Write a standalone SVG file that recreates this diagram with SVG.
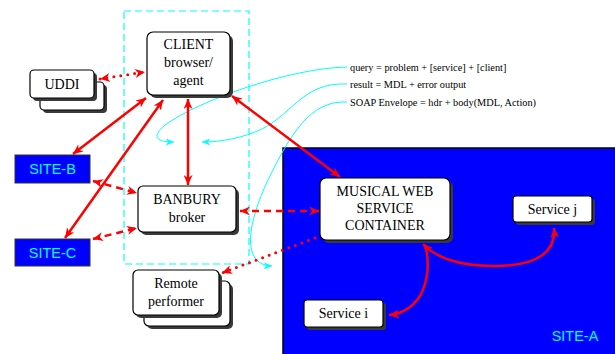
<svg xmlns="http://www.w3.org/2000/svg" width="615" height="354" viewBox="0 0 615 354">
<defs>
<marker id="ar" markerUnits="userSpaceOnUse" markerWidth="11" markerHeight="9" refX="10" refY="4.5" orient="auto-start-reverse" viewBox="0 0 11 9">
<path d="M0,0 L10,4.5 L0,9 L3,4.5 z" fill="#ff0000"/>
</marker>
<marker id="ac" markerUnits="userSpaceOnUse" markerWidth="9" markerHeight="7" refX="8" refY="3.5" orient="auto" viewBox="0 0 9 7">
<path d="M0,0 L8,3.5 L0,7 L2,3.5 z" fill="#00ffff"/>
</marker>
</defs>
<style>
.box{fill:#ffffff;stroke:#000;stroke-width:1.2}
.sh{fill:#3a3a3a}
.t{font-family:"Liberation Serif","Times New Roman",serif;font-size:14px;fill:#000;text-anchor:middle}
.s{font-family:"Liberation Sans",Arial,sans-serif;font-size:14.5px;fill:#00ffff;text-anchor:middle}
.n{font-family:"Liberation Serif","Times New Roman",serif;font-size:10.3px;fill:#000}
.site{fill:#0000ff;stroke:#333;stroke-width:1}
.r{fill:none;stroke:#ff0000;stroke-width:2.5}
.d{stroke-dasharray:7,5}
.o{stroke-dasharray:0,7;stroke-linecap:round;stroke-width:3}
.c{fill:none;stroke:#00ffff;stroke-width:1}
</style>

<g id="site-a">
<rect x="283" y="148" width="340" height="215" fill="#0000ff" stroke="#000" stroke-width="1.5"/>
<text class="s" x="575" y="341">SITE-A</text>
</g>

<g id="client-zone">
<rect x="124" y="11" width="125" height="253" fill="none" stroke="#00ffff" stroke-width="1.2" stroke-dasharray="7,4"/>
</g>

<g id="notes">
<text class="n" x="350" y="71">query = problem + [service] + [client]</text>
<text class="n" x="350" y="88">result = MDL + error output</text>
<text class="n" x="350" y="106">SOAP Envelope = hdr + body(MDL, Action)</text>
</g>

<g id="connectors">
<path class="c" d="M347,67 C290,68 200,100 165,125 C150,138 158,142 174,142" marker-end="url(#ac)"/>
<path class="c" d="M347,84 C300,82 292,118 255,132 C235,140 215,142 202,142" marker-end="url(#ac)"/>
<path class="c" d="M347,102 C310,100 290,135 268,180 C248,222 240,265 272,266" marker-end="url(#ac)"/>

<line class="r o" x1="100" y1="79" x2="145" y2="72" marker-start="url(#ar)" marker-end="url(#ar)"/>
<line class="r" x1="146" y1="98" x2="73" y2="154" marker-start="url(#ar)" marker-end="url(#ar)"/>
<line class="r" x1="163" y1="100" x2="65" y2="238" marker-start="url(#ar)" marker-end="url(#ar)"/>
<line class="r" x1="188" y1="99" x2="188" y2="185" marker-start="url(#ar)" marker-end="url(#ar)"/>
<line class="r" x1="232" y1="96" x2="340" y2="177" marker-start="url(#ar)" marker-end="url(#ar)"/>
<line class="r d" x1="93" y1="181" x2="137" y2="193" marker-start="url(#ar)" marker-end="url(#ar)"/>
<line class="r d" x1="93" y1="239" x2="137" y2="228" marker-start="url(#ar)" marker-end="url(#ar)"/>
<line class="r d" x1="240" y1="211" x2="319" y2="211" marker-start="url(#ar)" marker-end="url(#ar)"/>
<line class="r o" x1="315" y1="238" x2="222" y2="273" marker-end="url(#ar)"/>
<path class="r" d="M423,244 C440,262 470,266 495,266 C540,266 556,250 554,228" marker-start="url(#ar)" marker-end="url(#ar)"/>
<path class="r" d="M425,245 C430,262 428,282 420,296 C412,308 400,314 389,315" marker-end="url(#ar)"/>
</g>

<g id="uddi">
<rect class="sh" x="43" y="85" width="64" height="28" rx="4"/>
<rect class="box" x="40" y="82" width="64" height="28" rx="4"/>
<rect class="sh" x="33" y="73" width="64" height="28" rx="4"/>
<rect class="box" x="30" y="70" width="64" height="28" rx="4"/>
<text class="t" x="62" y="89">UDDI</text>
</g>

<g id="client">
<rect class="sh" x="150" y="35" width="83" height="63" rx="6"/>
<rect class="box" x="147" y="32" width="83" height="63" rx="6"/>
<text class="t" x="188.5" y="49">CLIENT</text>
<text class="t" x="188.5" y="67">browser/</text>
<text class="t" x="188.5" y="85">agent</text>
</g>

<g id="site-b">
<rect class="site" x="15" y="155" width="75" height="28"/>
<text class="s" x="52.5" y="174">SITE-B</text>
</g>

<g id="site-c">
<rect class="site" x="15" y="239" width="75" height="27"/>
<text class="s" x="52.5" y="257.5">SITE-C</text>
</g>

<g id="banbury">
<rect class="sh" x="141" y="189" width="98" height="46" rx="5"/>
<rect class="box" x="138" y="186" width="98" height="46" rx="5"/>
<text class="t" x="187" y="204">BANBURY</text>
<text class="t" x="187" y="222">broker</text>
</g>

<g id="remote">
<rect class="sh" x="147" y="284" width="86" height="45" rx="5"/>
<rect class="box" x="144" y="281" width="86" height="45" rx="5"/>
<rect class="sh" x="136" y="273" width="86" height="45" rx="5"/>
<rect class="box" x="133" y="270" width="86" height="45" rx="5"/>
<text class="t" x="176" y="288">Remote</text>
<text class="t" x="176" y="306">performer</text>
</g>

<g id="container">
<rect class="sh" x="323" y="181" width="130" height="62" rx="6"/>
<rect class="box" x="320" y="178" width="130" height="62" rx="6"/>
<text class="t" x="385" y="196">MUSICAL WEB</text>
<text class="t" x="385" y="213">SERVICE</text>
<text class="t" x="385" y="230">CONTAINER</text>
</g>

<g id="service-j">
<rect class="sh" x="516" y="199" width="79" height="26" rx="3"/>
<rect class="box" x="513" y="196" width="79" height="26" rx="3"/>
<text class="t" x="552.5" y="214">Service j</text>
</g>

<g id="service-i">
<rect class="sh" x="307" y="303" width="79" height="27" rx="3"/>
<rect class="box" x="304" y="300" width="79" height="27" rx="3"/>
<text class="t" x="343.5" y="318">Service i</text>
</g>
</svg>
